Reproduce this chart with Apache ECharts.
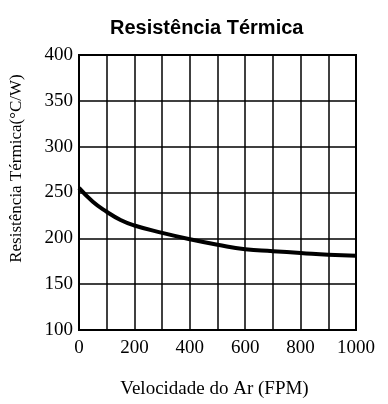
<!DOCTYPE html>
<html><head><meta charset="utf-8">
<script src="https://cdn.jsdelivr.net/npm/echarts@6/dist/echarts.min.js"></script>
<style>html,body{margin:0;padding:0;background:#fff}#c{width:388px;height:404px}</style>
</head><body><div id="c"></div>
<script>
const xValues = [0, 50, 100, 150, 200, 300, 400, 500, 600, 700, 800, 900, 1000];
const resistance = [255, 240, 229, 220, 214, 206, 199, 193, 188, 186, 184, 182, 181];
const titleText = 'Resistência Térmica';
const xName = 'Velocidade do Ar (FPM)';
const yName = 'Resistência Térmica(°C/W)';

const chart = echarts.init(document.getElementById('c'), null, {renderer: 'canvas'});
const serif = '"Liberation Serif", "DejaVu Serif", serif';
chart.setOption({
  animation: false,
  backgroundColor: '#fff',
  title: {
    text: titleText, left: 105, top: 13,
    textStyle: {fontFamily: '"Liberation Sans", Arial, sans-serif', fontWeight: 'bold', fontSize: 20, color: '#000'}
  },
  grid: {left: 77, right: 32, top: 55, bottom: 74, show: true, borderColor: '#000', borderWidth: 2},
  xAxis: {
    type: 'value', min: 0, max: 1000, interval: 100,
    name: xName, nameLocation: 'middle', nameGap: 50,
    nameTextStyle: {fontFamily: serif, fontSize: 19, color: '#000', padding: [0, 6, 0, 0]},
    axisLine: {show: false}, axisTick: {show: false},
    axisLabel: {
      fontFamily: serif, fontSize: 19, color: '#000', margin: 9,
      formatter: v => (v % 200 === 0 ? String(v) : '')
    },
    splitLine: {lineStyle: {color: '#000', width: 1.5}}
  },
  yAxis: {
    type: 'value', min: 100, max: 400, interval: 50,
    name: yName, nameLocation: 'middle', nameGap: 54,
    nameTextStyle: {fontFamily: serif, fontSize: 17, color: '#000', padding: [0, 0, 0, 48]},
    axisLine: {show: false}, axisTick: {show: false},
    axisLabel: {fontFamily: serif, fontSize: 19, color: '#000', margin: 6},
    splitLine: {lineStyle: {color: '#000', width: 1.5}}
  },
  series: [{
    type: 'line', smooth: true, symbol: 'none',
    data: xValues.map((x, i) => [x, resistance[i]]),
    lineStyle: {color: '#000', width: 4}
  }]
});
</script></body></html>
